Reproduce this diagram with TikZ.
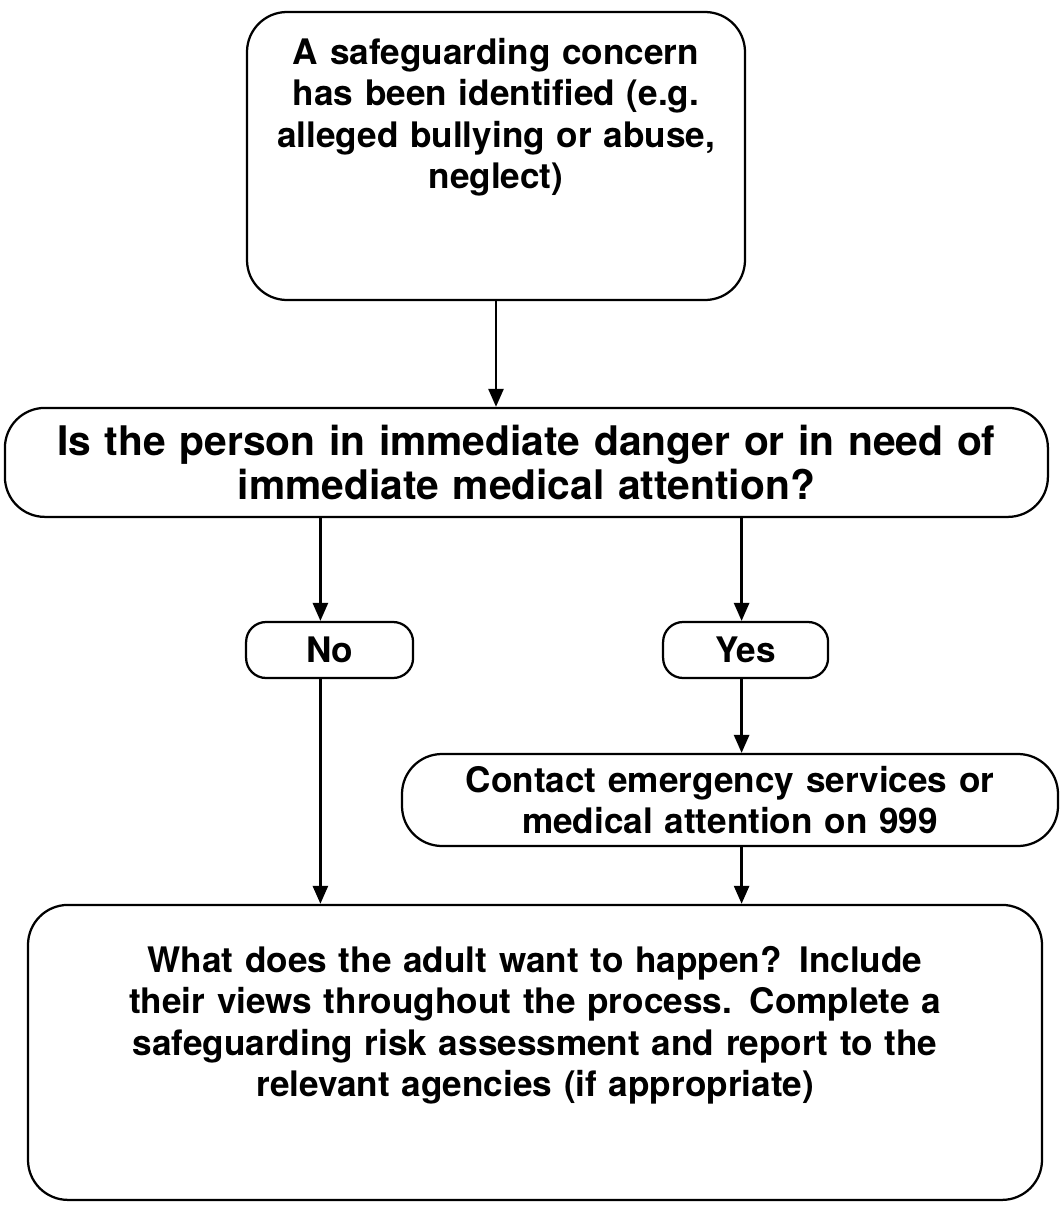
\documentclass[tikz,border=0pt]{standalone}
\usepackage{fontspec}
\setmainfont{TeX Gyre Heros}
\usepackage{tikz}
\usetikzlibrary{arrows.meta}

\tikzset{
	box/.style = {draw, line width=1.6pt, rounded corners=1cm, align=center,
		font=\bfseries\fontsize{25}{29.5}\selectfont, inner sep=0pt},
	small/.style = {box, rounded corners=0.5cm},
	arr/.style = {-{Triangle[length=0.45cm,width=0.38cm]}, line width=1.6pt}
}

\begin{document}
\begin{tikzpicture}
		\useasboundingbox (0,0) rectangle (26.525,-30.225);
		\node [box, minimum width=12.45cm, minimum height=7.2cm, text width=11.5cm, text depth=5.25cm] (concern) at (12.4,-3.9)
		{A safeguarding concern\\has been identified (e.g.\\alleged bullying or abuse,\\neglect)};
		\node [box, minimum width=26.075cm, minimum height=2.725cm, text width=25cm,
		font=\bfseries\fontsize{29}{31}\selectfont] (danger) at (13.16,-11.56)
		{Is the person in immediate danger or in need of\\immediate medical attention?};
		\node [small, minimum width=4.175cm, minimum height=1.4cm] (no) at (8.24,-16.25) {No};
		\node [small, minimum width=4.125cm, minimum height=1.4cm] (yes) at (18.64,-16.25) {Yes};
		\node [box, minimum width=16.4cm, minimum height=2.3cm, text width=16cm] (contact) at (18.25,-20.0)
		{Contact emergency services or\\medical attention on 999};
		\node [box, minimum width=25.35cm, minimum height=7.375cm, text width=25cm, text depth=4.65cm] (adult) at (13.375,-26.31)
		{What does the adult want to happen? Include\\their views throughout the process. Complete a\\safeguarding risk assessment and report to the\\relevant agencies (if appropriate)};

		\draw[arr]
		(concern.south) -- (concern.south |- danger.north);
		\draw[arr]
		([xshift=-0.23cm]no.north |- danger.south) -- ([xshift=-0.23cm]no.north);
		\draw[arr]
		([xshift=-0.1cm]yes.north |- danger.south) -- ([xshift=-0.1cm]yes.north);
		\draw[arr]
		([xshift=-0.1cm]yes.south) -- ([xshift=-0.1cm]yes.south |- contact.north);
		\draw[arr]
		([xshift=-0.23cm]no.south) -- ([xshift=-0.23cm]no.south |- adult.north);
		\draw[arr]
		([xshift=-0.1cm]yes.south |- contact.south) -- ([xshift=-0.1cm]yes.south |- adult.north);
\end{tikzpicture}
\end{document}
